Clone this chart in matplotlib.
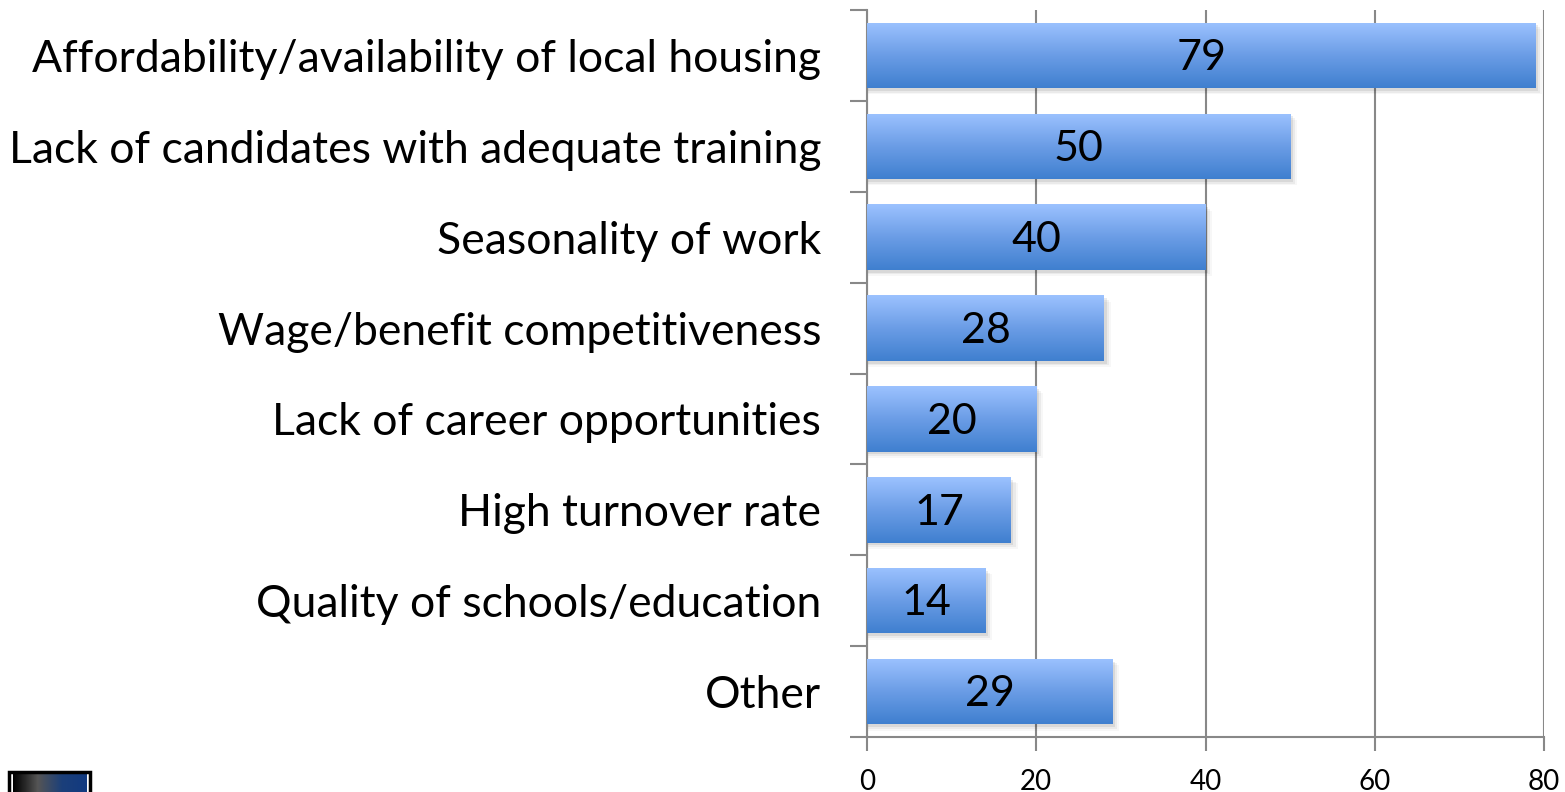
import numpy as np
import matplotlib
matplotlib.use('Agg')
import matplotlib.pyplot as plt
from matplotlib.patches import Rectangle
from matplotlib.colors import LinearSegmentedColormap

categories = [
    'Affordability/availability of local housing',
    'Lack of candidates with adequate training',
    'Seasonality of work',
    'Wage/benefit competitiveness',
    'Lack of career opportunities',
    'High turnover rate',
    'Quality of schools/education',
    'Other',
]
values = [79, 50, 40, 28, 20, 17, 14, 29]
xticks = [0, 20, 40, 60, 80]

plt.rcParams['font.family'] = ['Lato', 'DejaVu Sans']

fig = plt.figure(figsize=(15.65, 7.92), dpi=100)
ax = fig.add_axes([0.554, 0.0694, 0.4326, 0.918])

grad = LinearSegmentedColormap.from_list('bar', ['#3f7fcf', '#6b9de6', '#9cc2ff'])
gimg = np.linspace(0, 1, 256).reshape(-1, 1)

n = len(categories)
ypos = np.arange(n)[::-1]
h = 0.72
bars = ax.barh(ypos, values, height=h, color='none', zorder=3)
for b, v in zip(bars, values):
    x0, y0 = b.get_x(), b.get_y()
    w, hh = b.get_width(), b.get_height()
    # soft shadow
    for k, a in enumerate([0.08, 0.05, 0.03]):
        d = 0.3 + k * 0.25
        ax.add_patch(Rectangle((x0, y0 - 0.03 - k * 0.02), w + d, hh,
                               facecolor='#000000', alpha=a, lw=0, zorder=2))
    im = ax.imshow(gimg, cmap=grad, aspect='auto', origin='lower',
                   extent=[x0, x0 + w, y0, y0 + hh], zorder=3)
    im.set_clip_path(Rectangle((x0, y0), w, hh, transform=ax.transData))
    ax.text(x0 + w / 2, y0 + hh / 2 - 0.03, str(v), ha='center', va='center',
            fontsize=31, color='black', zorder=4)

ax.set_xlim(0, 80)
ax.set_ylim(-0.5, n - 0.5)
ax.set_xticks(xticks)
ax.set_xticklabels([str(t) for t in xticks], fontsize=20)
ax.set_yticks(ypos)
ax.set_yticklabels(categories, fontsize=32)
ax.tick_params(axis='y', length=0, pad=33)
ax.set_yticks(np.arange(-0.5, n, 1), minor=True)
ax.tick_params(axis='y', which='minor', length=12, width=1.5, color='#888888')
ax.tick_params(axis='x', length=10, width=1.5, color='#888888', pad=13)

ax.grid(axis='x', color='#888888', lw=1.5, zorder=1)
ax.set_axisbelow(True)
for s in ['top', 'right']:
    ax.spines[s].set_visible(False)
for s in ['left', 'bottom']:
    ax.spines[s].set_color('#888888')
    ax.spines[s].set_linewidth(1.5)

# logo corner (cut off at bottom)
lax = fig.add_axes([6 / 1565, 0, 87 / 1565, 22 / 792])
lax.set_xlim(0, 1)
lax.set_ylim(0, 1)
lax.axis('off')
limg = LinearSegmentedColormap.from_list('logo', ['#000000', '#555555', '#1b3f7a', '#123a80'])
lax.imshow(np.linspace(0, 1, 64).reshape(1, -1), cmap=limg, aspect='auto',
           extent=[0.08, 0.92, 0, 0.85])
lax.add_patch(Rectangle((0.03, -0.2), 0.94, 1.1, fill=False, ec='black', lw=2.5))

fig.savefig('out.png', dpi=100)
